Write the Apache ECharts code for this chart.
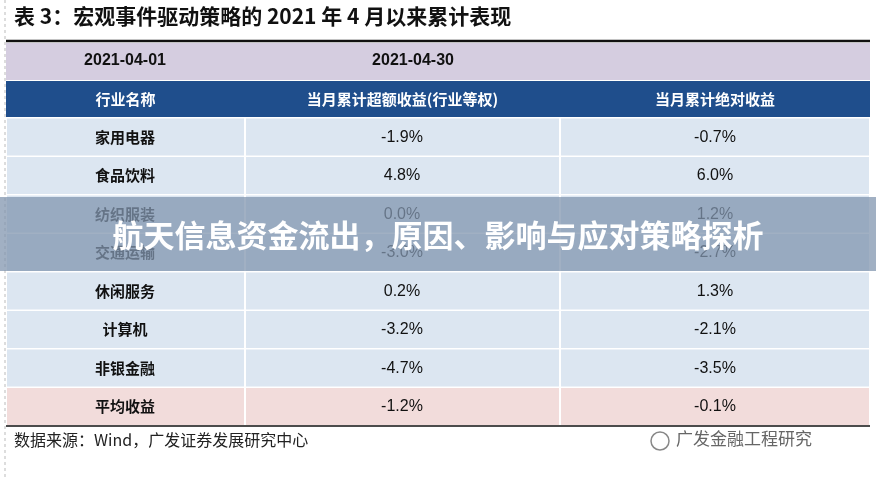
<!DOCTYPE html><html><head><meta charset="utf-8"><script src="https://cdn.jsdelivr.net/npm/echarts@6/dist/echarts.min.js"></script>
<style>html,body{margin:0;background:#fff}#c{width:876px;height:480px}</style></head><body><div id="c"></div><script>
const title='表 3：宏观事件驱动策略的 2021 年 4 月以来累计表现';
const dates=['2021-04-01','2021-04-30'];
const headers=['行业名称','当月累计超额收益(行业等权)','当月累计绝对收益'];
const industries=['家用电器','食品饮料','纺织服装','交通运输','休闲服务','计算机','非银金融','平均收益'];
const excess=[-1.9,4.8,0.0,-3.0,0.2,-3.2,-4.7,-1.2];
const absolute=[-0.7,6.0,1.2,-2.7,1.3,-2.1,-3.5,-0.1];
const source='数据来源：Wind，广发证券发展研究中心';
const banner='航天信息资金流出，原因、影响与应对策略探析';
const watermark='广发金融工程研究';

const chart=echarts.init(document.getElementById('c'));
const cols=[6,245,560,870], top0=117, rh=38.5;
const g=[];
const serif='"Noto Sans CJK SC",serif';
g.push({type:'text',left:14,top:6,style:{text:title,font:'bold 21px "Noto Sans CJK SC"',fill:'#111'}});
g.push({type:'line',shape:{x1:6,y1:41,x2:870,y2:41},style:{stroke:'#111',lineWidth:2.5}});
g.push({type:'line',shape:{x1:5,y1:0,x2:5,y2:480},style:{stroke:'#bbb',lineDash:[3,3]}});
g.push({type:'rect',shape:{x:6,y:43,width:864,height:37},style:{fill:'#d5cde0'}});
g.push({type:'text',x:125,y:61,style:{text:dates[0],font:'bold 16px Arial',fill:'#111',align:'center',verticalAlign:'middle'}});
g.push({type:'text',x:413,y:61,style:{text:dates[1],font:'bold 16px Arial',fill:'#111',align:'center',verticalAlign:'middle'}});
g.push({type:'rect',shape:{x:6,y:81,width:864,height:36},style:{fill:'#1f4e8c'}});
for(let c=0;c<3;c++){
 g.push({type:'text',x:(cols[c]+cols[c+1])/2,y:99,style:{text:headers[c],font:'bold 15px '+serif,fill:'#fff',align:'center',verticalAlign:'middle'}});
}
industries.forEach((n,i)=>{
 const y=top0+i*rh;
 const fill=i===industries.length-1?'#f2dcdb':'#dce6f1';
 for(let c=0;c<3;c++) g.push({type:'rect',shape:{x:cols[c]+1,y:y+1.5,width:cols[c+1]-cols[c]-2,height:rh-1.5},style:{fill}});
 const cy=y+rh/2+1;
 g.push({type:'text',x:125,y:cy,style:{text:n,font:'bold 15px '+serif,fill:'#111',align:'center',verticalAlign:'middle'}});
 g.push({type:'text',x:402,y:cy,style:{text:excess[i].toFixed(1)+'%',font:'16px Arial',fill:'#111',align:'center',verticalAlign:'middle'}});
 g.push({type:'text',x:715,y:cy,style:{text:absolute[i].toFixed(1)+'%',font:'16px Arial',fill:'#111',align:'center',verticalAlign:'middle'}});
});
const bot=top0+industries.length*rh+1;
g.push({type:'line',shape:{x1:6,y1:bot,x2:870,y2:bot},style:{stroke:'#111',lineWidth:1.5}});
g.push({type:'text',left:14,top:432,style:{text:source,font:'16px '+serif,fill:'#222'}});
g.push({type:'text',left:676,top:430,style:{text:watermark,font:'17px "Noto Sans CJK SC"',fill:'#666'}});
g.push({type:'circle',shape:{cx:660,cy:441,r:9},style:{fill:'none',stroke:'#888',lineWidth:1.5}});
g.push({type:'rect',shape:{x:0,y:197,width:876,height:74},style:{fill:'rgba(130,150,175,0.75)'}});
g.push({type:'text',x:438,y:235,style:{text:banner,font:'bold 31px "Noto Sans CJK SC"',fill:'#fff',align:'center',verticalAlign:'middle'}});
chart.setOption({animation:false,graphic:g});
</script></body></html>
